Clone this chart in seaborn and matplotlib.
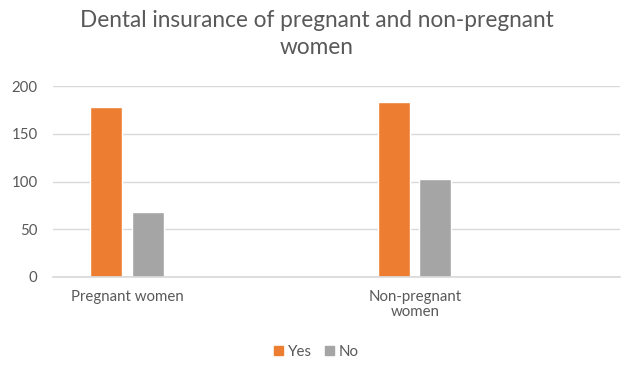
import matplotlib
matplotlib.use("Agg")
import matplotlib.pyplot as plt
import seaborn as sns
import pandas as pd
from matplotlib.patches import Patch

categories = ["Pregnant women", "Non-pregnant\nwomen"]
series_names = ["Yes", "No"]
yes_values = [178, 183]
no_values = [68, 103]
y_ticks = [0, 50, 100, 150, 200]
title = "Dental insurance of pregnant and non-pregnant\nwomen"

rows = []
for c, y, n in zip(categories, yes_values, no_values):
    rows.append({"category": c, "answer": "Yes", "count": y})
    rows.append({"category": c, "answer": "No", "count": n})
df = pd.DataFrame(rows)

sns.set_theme(style="white")
plt.rcParams["font.family"] = ["Lato", "DejaVu Sans"]

fig = plt.figure(figsize=(6.33, 3.69), dpi=100)
ax = fig.add_axes([53/633, 1 - 277/369, 567/633, 191/369])

palette = {"Yes": "#ED7D31", "No": "#A5A5A5"}
sns.barplot(data=df, x="category", y="count", hue="answer", order=categories,
            hue_order=series_names, palette=palette, width=0.285, gap=0.22,
            saturation=1, ax=ax, legend=False)

ax.set_xlim(-0.257, 1.712)
ax.set_ylim(0, 200)
ax.set_yticks(y_ticks)
ax.yaxis.grid(True, color="#D9D9D9", linewidth=1)
ax.set_axisbelow(True)
for s in ["top", "right", "left"]:
    ax.spines[s].set_visible(False)
ax.spines["bottom"].set_color("#D9D9D9")
ax.tick_params(axis="both", length=0, colors="#595959", labelsize=10.8)
ax.tick_params(axis="x", pad=9)
ax.tick_params(axis="y", pad=11)
ax.set_xlabel("")
ax.set_ylabel("")
for lbl in ax.get_xticklabels():
    lbl.set_linespacing(1.15)

fig.text(0.5, 1 - 34/369, title, ha="center", va="center", fontsize=16.3,
         color="#595959", linespacing=1.4)

handles = [Patch(color=palette[s], label=s) for s in series_names]
fig.legend(handles=handles, loc="center", bbox_to_anchor=(0.5, 1 - 352/369),
           ncol=2, frameon=False, fontsize=10.8, handlelength=0.6, handleheight=0.6,
           handletextpad=0.3, columnspacing=0.9, labelcolor="#595959")

fig.savefig("out.png", dpi=100, facecolor="white")
